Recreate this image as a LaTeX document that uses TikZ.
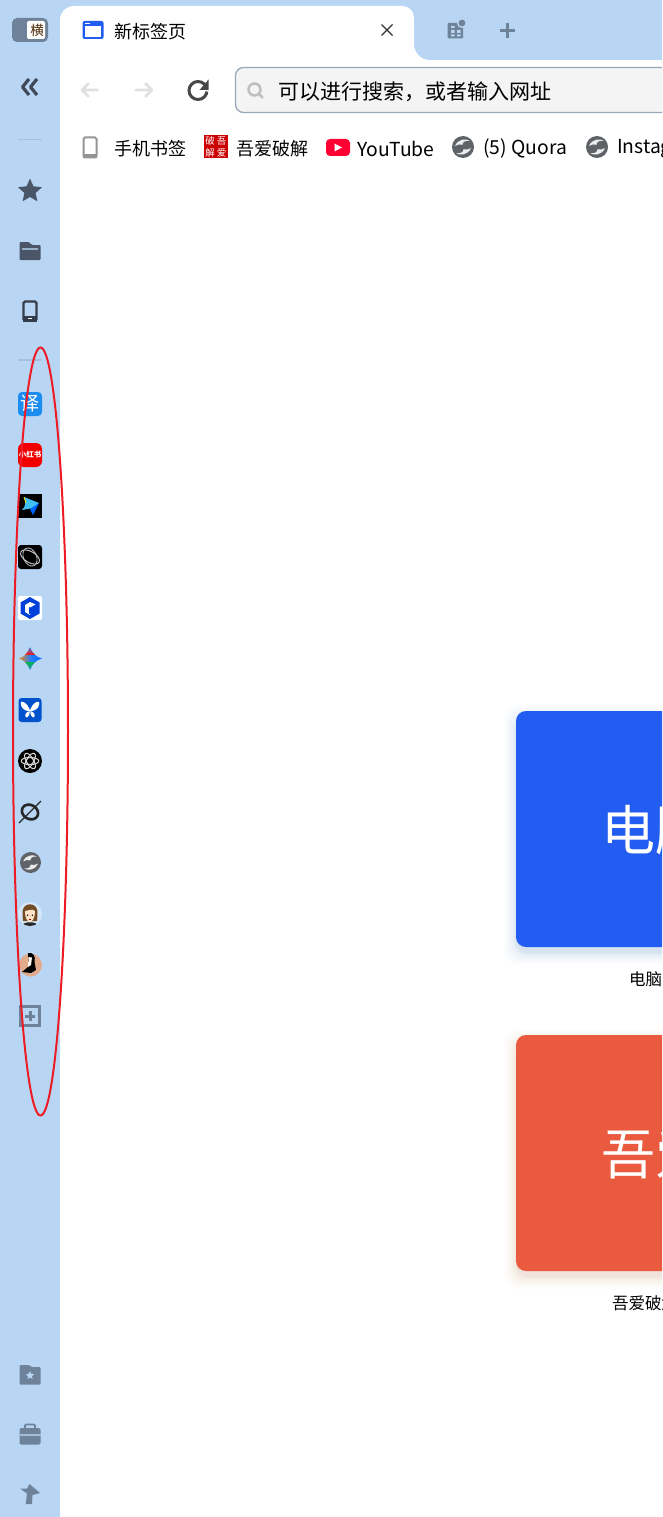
\documentclass[tikz,border=0pt]{standalone}
\usepackage{fontspec}
\usetikzlibrary{fadings}
\setmainfont{Noto Sans CJK SC}
\definecolor{barblue}{HTML}{B8D6F4}
\definecolor{slateicon}{HTML}{6E8299}
\definecolor{darkicon}{HTML}{4A5668}
\definecolor{sepline}{HTML}{A5C1DC}
\definecolor{cardblue}{HTML}{225CF0}
\definecolor{cardred}{HTML}{E95A3F}
\definecolor{greyglobe}{HTML}{5F6368}
\definecolor{ringred}{HTML}{ED1C24}
\definecolor{ytred}{HTML}{FF0033}
\definecolor{transblue}{HTML}{1B8CF0}
\tikzset{
  x=1pt,y=-1pt,
  txt/.style={anchor=west,inner sep=0pt,text=black,font=\fontsize{#1}{#1}\selectfont},
  navline/.style={line width=2.6pt,line cap=round,line join=round},
  sep/.style={draw=sepline,line width=#1},
  cardshadow/.style={opacity=0.012},
}
\newcommand{\globeicon}[3]{% x y r
  \begin{scope}[shift={(#1,#2)}]
    \fill[greyglobe] (0,0) circle (#3);
    \fill[white!88!greyglobe] (-0.72*#3,-0.1*#3) .. controls (-0.5*#3,-0.72*#3) and (0.3*#3,-0.82*#3) .. (0.62*#3,-0.55*#3)
      .. controls (0.2*#3,-0.62*#3) and (-0.05*#3,-0.45*#3) .. (-0.05*#3,-0.2*#3)
      .. controls (-0.25*#3,-0.3*#3) and (-0.5*#3,-0.22*#3) .. cycle;
    \fill[white!88!greyglobe] (0.72*#3,0.1*#3) .. controls (0.5*#3,0.72*#3) and (-0.3*#3,0.82*#3) .. (-0.62*#3,0.55*#3)
      .. controls (-0.2*#3,0.62*#3) and (0.05*#3,0.45*#3) .. (0.05*#3,0.2*#3)
      .. controls (0.25*#3,0.3*#3) and (0.5*#3,0.22*#3) .. cycle;
  \end{scope}}
\begin{document}
\begin{tikzpicture}
\path[use as bounding box] (0,0) rectangle (662,1517);
\clip (0,0) rectangle (662,1517);
\fill[white] (0,0) rectangle (662,1517);
% chrome
\fill[barblue] (0,0) rectangle (662,60);
\fill[barblue] (0,0) rectangle (60,1517);
% tab with flare
\fill[white] (60,61) -- (60,20) .. controls (60,12) and (66,6) .. (74,6) -- (402,6)
  .. controls (409,6) and (414,11) .. (414,18) -- (414,44)
  .. controls (414,53) and (421,60) .. (430,60) -- (430,61) -- cycle;
% tab content
\fill[cardblue] (82.5,21) [rounded corners=2pt] rectangle (103.5,39);
\fill[white] (85,26.5) rectangle (101,37);
\fill[white] (85,23) rectangle (90,24.5);
\node[txt=18] (tabtitle) at (114,31.5) {新标签页};
\draw[black!80,line width=1.4pt] (381.5,24.5) -- (392.5,35.5) (392.5,24.5) -- (381.5,35.5);
% tab actions
\fill[slateicon] (447.5,23) [rounded corners=1pt] rectangle (463,38.5);
\fill[barblue] (451,30) rectangle (454.5,33) (457,30) rectangle (460.5,33) (451,34.5) rectangle (454.5,36.5) (457,34.5) rectangle (460.5,36.5) (451,26) rectangle (454.5,28);
\fill[barblue] (462,23) circle (5);
\fill[slateicon] (462,23) circle (3.4);
\draw[slateicon,line width=3pt] (499.5,30.5) -- (515,30.5) (507.2,23) -- (507.2,38);
% sidebar toggle
\fill[slateicon] (12,18) [rounded corners=5pt] rectangle (48,42);
\fill[white] (27,21) [rounded corners=2pt] rectangle (45,39);
\node[inner sep=0pt,font=\fontsize{13.5}{13.5}\selectfont,text=black!70!orange] (toggle) at (37,30.5) {横};
% sidebar collapse
\draw[line width=3.2pt,draw=darkicon!85!black,line join=round] (29,79) -- (22.5,87) -- (29,95) (37,79) -- (30.5,87) -- (37,95);
\draw[sep=1pt] (18,139.5) -- (42,139.5);
\draw[sep=1.5pt] (18,360) -- (42,360);
% navigation
\draw[navline,draw=black!12] (97.5,90) -- (82,90) (88.5,83.5) -- (82,90) -- (88.5,96.5);
\draw[navline,draw=black!12] (136,90) -- (152,90) (145.5,83.5) -- (152,90) -- (145.5,96.5);
\draw[line width=3pt,draw=black!72] (198,90.5) circle (9);
\fill[white] (198,90.5) -- (212,83) -- (212,92) -- cycle;
\fill[black!72] (208.5,79.5) -- (208.5,90) -- (199.5,90) -- cycle;
% address bar
\draw[draw=slateicon!70,line width=1.3pt,fill=black!4.5,rounded corners=8pt] (235.5,67.5) rectangle (700,112.5);
\draw[draw=black!25,line width=2.5pt] (254.5,89.5) circle (6);
\draw[draw=black!25,line width=2.8pt,line cap=round] (259,94) -- (262.5,97.5);
\node[txt=21] (addr) at (278,92) {可以进行搜索，或者输入网址};
% bookmarks
\draw[draw=black!42,line width=2pt,rounded corners=1.5pt] (83.5,137.5) rectangle (96.5,157.5);
\fill[black!42] (83,154.5) rectangle (97,158);
\node[txt=18] (bm1) at (114,148.5) {手机书签};
\fill[red!80!black] (204,135) rectangle (227.5,158.5);
\node[inner sep=0pt,text=white,font=\fontsize{9.5}{9.5}\selectfont] (bmi1) at (210,141) {破};
\node[inner sep=0pt,text=white,font=\fontsize{9.5}{9.5}\selectfont] (bmi2) at (221.5,141) {吾};
\node[inner sep=0pt,text=white,font=\fontsize{9.5}{9.5}\selectfont] (bmi3) at (210,152.5) {解};
\node[inner sep=0pt,text=white,font=\fontsize{9.5}{9.5}\selectfont] (bmi4) at (221.5,152.5) {爱};
\node[txt=18] (bm2) at (236,148.5) {吾爱破解};
\fill[ytred,rounded corners=4pt] (326,139) rectangle (350,156);
\fill[white] (334.5,143.5) -- (342,147.5) -- (334.5,151.5) -- cycle;
\node[txt=19.3] (bm3) at (357,148.5) {YouTube};
\globeicon{463}{147}{11}
\node[txt=19.3] (bm4) at (483,148.5) {(5) Quora};
\globeicon{597}{147}{11}
\node[txt=19.3] (bm5) at (617,148.5) {Instagram};
% sidebar tools
\fill[darkicon] (30,178.5) -- (33.4,186.3) -- (42,187.2) -- (35.6,193) -- (37.4,201.3) -- (30,197) -- (22.6,201.3) -- (24.4,193) -- (18,187.2) -- (26.6,186.3) -- cycle;
\fill[darkicon,rounded corners=1pt] (19.5,242) -- (29,242) -- (32,245) -- (40.5,245) -- (40.5,260) -- (19.5,260) -- cycle;
\fill[barblue!70!darkicon] (22,248) rectangle (38,249.5);
\draw[draw=darkicon!70!black,line width=2.4pt,rounded corners=1.5pt,fill=barblue] (23.5,301.5) rectangle (36.5,320.5);
\fill[darkicon!70!black] (23,316) rectangle (37,321.5);
\fill[white] (28,317.8) rectangle (32,319.2);
% favicons
\fill[transblue] (18,392) [rounded corners=4pt] rectangle (42,416);
\node[inner sep=0pt,text=white,font=\fontsize{19}{19}\selectfont] (fav1) at (30,403.5) {译};
\fill[red!95!black] (18,443) [rounded corners=6pt] rectangle (42,467);
\node[inner sep=0pt,text=white,font=\fontsize{7.5}{7.5}\selectfont\bfseries] (fav2) at (30,455) {小红书};
\fill[black] (18,494) rectangle (42,518);
\fill[cyan!75!white] (24,497) -- (39,503) -- (33,508) -- (22,510) .. controls (26,506) and (26,502) .. (24,497) -- cycle;
\fill[blue!60!cyan] (39,503) -- (33,515) -- (30,509) -- cycle;
\draw[yellow!80!orange,line width=0.8pt] (24,497) -- (26,503);
\fill[black] (18,545) [rounded corners=3pt] rectangle (42,569);
\draw[white!80!black,line width=0.9pt,rotate around={-30:(30,557)}] (30,557) ellipse (10.5 and 5.5);
\draw[white!70!black,line width=0.9pt,rotate around={25:(30,557)}] (30,557) ellipse (6.5 and 9.5);
\fill[white] (18,596) [rounded corners=2pt] rectangle (42,620);
\fill[blue!70!cyan!85!black] (30,597) -- (39.5,602.5) -- (39.5,613.5) -- (30,619) -- (20.5,613.5) -- (20.5,602.5) -- cycle;
\fill[white] (30,602) -- (35.5,604.5) -- (30,607.5) -- (30,615) -- (25,612) -- (25,605) -- cycle;
\fill[blue!70!cyan!85!black] (29,607) -- (33,609) -- (33,612) -- (29,614) -- cycle;
% gemini star
\begin{scope}
  \clip (30,647) .. controls (32,653) and (36,657) .. (42,658.5) .. controls (36,660) and (32,664) .. (30,670)
    .. controls (28,664) and (24,660) .. (19,658.5) .. controls (24,657) and (28,653) .. (30,647) -- cycle;
  \shade[left color=orange!90!yellow,right color=blue!60!cyan,middle color=blue!60!cyan!85!white] (18,646) rectangle (43,672);
  \fill[red!85!orange,path fading=north] (18,647) rectangle (43,655);
  \fill[green!60!black!70!cyan,path fading=south] (18,662) rectangle (43,672);
\end{scope}
% butterfly
\fill[blue!60!cyan!80!black] (18.5,698) [rounded corners=3pt] rectangle (41.5,722);
\fill[white] (29.5,709) .. controls (27,703) and (23,701) .. (21,702) .. controls (20,705) and (22,711) .. (29.5,711) .. controls (25,712) and (24,717) .. (27,717.5) .. controls (29,717) and (29.8,714) .. (29.8,710) -- cycle;
\fill[white] (30.5,709) .. controls (33,703) and (37,701) .. (39,702) .. controls (40,705) and (38,711) .. (30.5,711) .. controls (35,712) and (36,717) .. (33,717.5) .. controls (31,717) and (30.2,714) .. (30.2,710) -- cycle;
% openai
\fill[black] (30,761) circle (12);
\foreach \ang in {0,60,120} {
  \draw[white!85!black,line width=1pt,rotate around={\ang:(30,761)}] (30,761) ellipse (8.8 and 3.6);
}
\draw[white!85!black,line width=0.8pt] (30,761) circle (3.6);
% empty set icon
\draw[black!85,line width=2.6pt,rotate around={-30:(30,812)}] (30,812) ellipse (8.5 and 7);
\draw[black!85,line width=1.2pt] (19,823) -- (41,801);
% globe
\globeicon{30.5}{862.5}{10.5}
% avatar 1
\fill[barblue!60!white] (30,914) circle (12);
\begin{scope}
  \clip (30,914) circle (12);
  \fill[black!85] (21,926) .. controls (24,921) and (36,921) .. (39,926) -- cycle;
  \fill[brown!60!black] (22.5,914) .. controls (21,901) and (39,901) .. (37.5,914) -- (37,921) -- (23,921) -- cycle;
  \fill[orange!22!white] (25,911) .. controls (28,911) and (32,908) .. (35,911) .. controls (35.3,918) and (32,922) .. (30,922) .. controls (27.5,922) and (24.8,918) .. (25,911) -- cycle;
  \fill[red!70!black] (29,918.7) rectangle (31,919.5);
  \fill[black] (27.6,915.2) circle (0.8) (32.4,915.2) circle (0.8);
\end{scope}
% avatar 2
\fill[cardred!35!brown!60!white] (30.5,965) circle (11.5);
\fill[black] (28,953) .. controls (33,952) and (36,956) .. (34.5,962) -- (36,970) -- (31,973) -- (22,972) -- (28,967) -- cycle;
\fill[white!92!orange] (28.5,957) -- (32,957.5) -- (31,965) -- (28,967) -- cycle;
% add
\draw[draw=slateicon,line width=3pt] (20.5,1006.5) rectangle (39.5,1025.5);
\draw[draw=slateicon,line width=3pt] (25,1016) -- (35,1016) (30,1011) -- (30,1021);
% bottom tools
\fill[slateicon,rounded corners=1pt] (19.5,1365) -- (29,1365) -- (31.5,1367) -- (40.5,1367) -- (40.5,1384.5) -- (19.5,1384.5) -- cycle;
\fill[barblue] (30,1371) -- (31.2,1373.8) -- (34.2,1374.1) -- (31.9,1376.1) -- (32.6,1379) -- (30,1377.5) -- (27.4,1379) -- (28.1,1376.1) -- (25.8,1374.1) -- (28.8,1373.8) -- cycle;
\fill[slateicon,rounded corners=1.5pt] (19.5,1428) rectangle (40.5,1444.5);
\draw[draw=slateicon,line width=1.6pt,rounded corners=1pt] (25,1428) -- (25,1424.5) -- (35,1424.5) -- (35,1428);
\fill[barblue!70!slateicon] (19.5,1434) rectangle (40.5,1436);
\fill[slateicon] (29.5,1484) -- (40,1493) -- (32.5,1495) -- (32,1504) -- (25.7,1504) -- (27,1493.5) -- (20,1488.5) -- (27,1488.5) -- cycle;
% cards
\foreach \gr in {1,...,14} {
  \fill[cardblue,cardshadow,rounded corners=14pt] ({516-\gr*\gr*0.06},{711+6-\gr*\gr*0.06}) rectangle (700,{947+6+\gr*\gr*0.06});
  \fill[cardred,cardshadow,rounded corners=14pt] ({516-\gr*\gr*0.06},{1035+6-\gr*\gr*0.06}) rectangle (700,{1271+6+\gr*\gr*0.06});
}
\fill[cardblue,rounded corners=10pt] (516,711) rectangle (700,947);
\node[txt=54,text=white] (card1) at (601,830) {电脑};
\node[txt=16.5] (label1) at (629,979.5) {电脑};
\fill[cardred,rounded corners=10pt] (516,1035) rectangle (700,1271);
\node[txt=54,text=white] (card2) at (601,1154) {吾爱};
\node[txt=16.5] (label2) at (612,1303.5) {吾爱破解};
% annotation ellipse
\draw[draw=ringred,line width=2pt] (40.5,731.5) ellipse (27.5 and 384);
\end{tikzpicture}
\end{document}
